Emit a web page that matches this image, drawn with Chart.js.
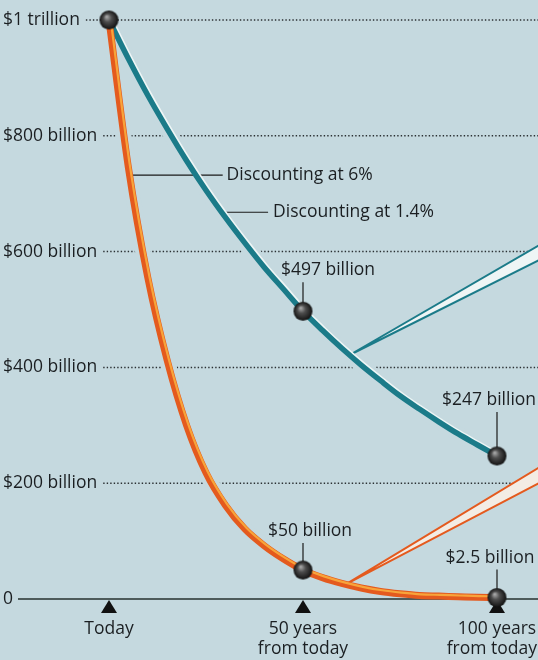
<!DOCTYPE html>
<html><head><meta charset="utf-8">
<script src="https://cdn.jsdelivr.net/npm/chart.js@4/dist/chart.umd.min.js"></script>
<style>html,body{margin:0;padding:0;background:#c5d9df;}#wrap{width:538px;height:660px;position:relative;}</style>
</head><body><div id="wrap"><canvas id="c"></canvas></div>
<script>
// ---- data (values in $ billion, years from today) ----
const years   = [0, 5, 10, 15, 20, 25, 30, 35, 40, 45, 50, 55, 60, 65, 70, 75, 80, 85, 90, 95, 100];
const rate14  = [1000, 933, 870, 812, 757, 706, 659, 615, 573, 535, 497, 464, 433, 404, 377, 351, 328, 306, 285, 266, 247];
const rate6   = [1000, 745, 555, 412, 300, 218, 162, 121, 92, 69, 50, 37, 27, 19, 13, 9, 6, 5, 4, 3, 2.5];
const markerYears  = [0, 50, 100, 50, 100];
const markerValues = [1000, 497, 247, 50, 2.5];
const markerLabels = ['', '$497 billion', '$247 billion', '$50 billion', '$2.5 billion'];
const yTickValues = [0, 200, 400, 600, 800, 1000];
const yTickLabels = ['0', '$200 billion', '$400 billion', '$600 billion', '$800 billion', '$1 trillion'];
const xTickValues = [0, 50, 100];
const xTickLabels = [['Today'], ['50 years', 'from today'], ['100 years', 'from today']];
const seriesLabels = ['Discounting at 1.4%', 'Discounting at 6%'];

// ---- styles ----
const BG = '#c5d9df', TEXT = '#1b1f22', TEAL = '#1b7b89', ORANGE = '#e45a1e', ORANGE_HI = '#f8a43a';
const FONT = '17.5px "Open Sans", sans-serif';
const markerLabelOffsets = [null, [25, -41], [-8, -56], [7, -39], [-7, -40]]; // px offsets of label centers
const seriesLabelPos = [ {value: 668, from: 29, to: 41, text: 42.3}, {value: 732, from: 5.2, to: 29.3, text: 30.3} ];
const wedges = [
  {color: TEAL, fill: '#eef5f5', year: 62, series: 0, ends: [612, 586]},
  {color: ORANGE, fill: '#f3ece4', year: 61, series: 1, ends: [228, 201]}
];

function ball(r){
  const c = document.createElement('canvas'); c.width = c.height = 2*r+2;
  const g = c.getContext('2d'); const cx = r+1;
  const grad = g.createRadialGradient(cx-r*0.25, cx-r*0.35, r*0.05, cx, cx, r);
  grad.addColorStop(0, '#a9a9a9'); grad.addColorStop(0.4, '#4d4d4d'); grad.addColorStop(1, '#111');
  g.fillStyle = grad; g.beginPath(); g.arc(cx, cx, r, 0, Math.PI*2); g.fill();
  return c;
}
const BALL = ball(9.5);

const pts = (xs, ys) => xs.map((x, i) => ({x, y: ys[i]}));
const lineDs = (data, color, width, order, extra) => Object.assign({
  data, borderColor: color, borderWidth: width, pointRadius: 0, fill: false, clip: false,
  cubicInterpolationMode: 'monotone', order, borderCapStyle: 'round', borderJoinStyle: 'round'
}, extra || {});

const datasets = [
  lineDs(pts(years, rate14), BG, 15, 9, {role: 'halo'}),
  lineDs(pts(years, rate6), BG, 15, 8, {role: 'halo2'}),
  lineDs(pts(years, rate14), '#eef6f6', 2.5, 6, {shift: [2.6, -1.8]}),
  lineDs(pts(years, rate14), TEAL, 5.5, 5, {label: seriesLabels[0]}),
  lineDs(pts(years, rate6), ORANGE, 7, 4, {label: seriesLabels[1]}),
  lineDs(pts(years, rate6), ORANGE_HI, 2.2, 3, {shift: [1.6, -1.2]}),
  {data: pts(markerYears, markerValues), showLine: false, pointStyle: BALL, pointRadius: 10, clip: false, order: 1}
];

// centre text at cx, but keep it inside the canvas
function fitText(ctx, text, cx, cy, W){
  const w = ctx.measureText(text).width;
  const x = Math.min(cx, W - 1 - w / 2);
  ctx.fillText(text, x, cy);
}

const sketch = {
  id: 'sketch',
  beforeDatasetsDraw(chart){
    const {ctx, scales: {y}} = chart;
    ctx.save();
    ctx.font = FONT; ctx.fillStyle = TEXT; ctx.textBaseline = 'middle'; ctx.textAlign = 'left';
    yTickValues.forEach((v, i) => {
      const py = y.getPixelForValue(v);
      ctx.fillText(yTickLabels[i], 3, py);
      if (v === 0) return;
      const w = ctx.measureText(yTickLabels[i]).width;
      ctx.setLineDash([1.4, 2.1]); ctx.lineWidth = 1.5; ctx.strokeStyle = '#2b3033';
      ctx.beginPath(); ctx.moveTo(3 + w + 6, py); ctx.lineTo(chart.width, py); ctx.stroke();
    });
    ctx.restore();
  },
  beforeDatasetDraw(chart, args){
    const ds = chart.data.datasets[args.index];
    if (ds.shift){ chart.ctx.save(); chart.ctx.translate(ds.shift[0], ds.shift[1]); }
  },
  afterDatasetDraw(chart, args){
    const ds = chart.data.datasets[args.index];
    const {ctx, scales: {x, y}} = chart;
    if (ds.shift){ ctx.restore(); }
    if (ds.role !== 'halo2') return;
    ctx.save();
    // axis line
    ctx.font = FONT;
    const zw = ctx.measureText('0').width;
    const y0 = y.getPixelForValue(0);
    ctx.strokeStyle = '#26302f'; ctx.lineWidth = 1.6;
    ctx.beginPath(); ctx.moveTo(3 + zw + 5, y0); ctx.lineTo(chart.width, y0); ctx.stroke();
    // ticks (triangles) + labels
    ctx.textAlign = 'center'; ctx.textBaseline = 'middle';
    xTickValues.forEach((v, i) => {
      const px = x.getPixelForValue(v);
      ctx.fillStyle = '#111';
      ctx.beginPath(); ctx.moveTo(px, y0 + 1); ctx.lineTo(px + 8, y0 + 14); ctx.lineTo(px - 8, y0 + 14); ctx.closePath(); ctx.fill();
      ctx.fillStyle = TEXT;
      xTickLabels[i].forEach((t, j) => fitText(ctx, t, px, y0 + 30 + j * 20, chart.width));
    });
    // series label leaders
    ctx.strokeStyle = '#1a1a1a'; ctx.lineWidth = 1.2; ctx.textAlign = 'left';
    seriesLabelPos.forEach((p, i) => {
      const py = y.getPixelForValue(p.value);
      ctx.beginPath(); ctx.moveTo(x.getPixelForValue(p.from), py); ctx.lineTo(x.getPixelForValue(p.to), py); ctx.stroke();
      ctx.fillText(seriesLabels[i], x.getPixelForValue(p.text), py);
    });
    // callout wedges
    wedges.forEach(w => {
      const src = w.series === 0 ? rate14 : rate6;
      const k = years.findIndex(t => t >= w.year);
      const t0 = years[k-1], t1 = years[k];
      const val = src[k-1] + (src[k] - src[k-1]) * (w.year - t0) / (t1 - t0);
      const ax = x.getPixelForValue(w.year), ay = y.getPixelForValue(val);
      const e1 = y.getPixelForValue(w.ends[0]), e2 = y.getPixelForValue(w.ends[1]);
      const R = chart.width + 2;
      ctx.fillStyle = w.fill;
      ctx.beginPath(); ctx.moveTo(ax, ay); ctx.lineTo(R, e1); ctx.lineTo(R, e2); ctx.closePath(); ctx.fill();
      ctx.strokeStyle = w.color; ctx.lineWidth = 2;
      ctx.beginPath(); ctx.moveTo(ax, ay); ctx.lineTo(R, e1); ctx.moveTo(ax, ay); ctx.lineTo(R, e2); ctx.stroke();
    });
    ctx.restore();
  },
  afterDatasetsDraw(chart){
    const {ctx, scales: {x, y}} = chart;
    ctx.save();
    ctx.font = FONT; ctx.fillStyle = TEXT; ctx.textAlign = 'center'; ctx.textBaseline = 'middle';
    ctx.strokeStyle = '#1a1a1a'; ctx.lineWidth = 1.2;
    markerLabels.forEach((lab, i) => {
      if (!lab) return;
      const px = x.getPixelForValue(markerYears[i]), py = y.getPixelForValue(markerValues[i]);
      const [dx, dy] = markerLabelOffsets[i];
      fitText(ctx, lab, px + dx, py + dy, chart.width);
      ctx.beginPath(); ctx.moveTo(px, py + dy + 12); ctx.lineTo(px, py - 9); ctx.stroke();
    });
    ctx.restore();
  }
};

new Chart(document.getElementById('c'), {
  type: 'line',
  data: {datasets},
  plugins: [sketch],
  options: {
    responsive: true, maintainAspectRatio: false, animation: false,
    layout: {padding: {left: 109, right: 41, top: 20, bottom: 61}},
    plugins: {legend: {display: false}, tooltip: {enabled: false}},
    scales: {
      x: {type: 'linear', min: 0, max: 100, display: false},
      y: {type: 'linear', min: 0, max: 1000, display: false}
    }
  }
});
</script></body></html>
